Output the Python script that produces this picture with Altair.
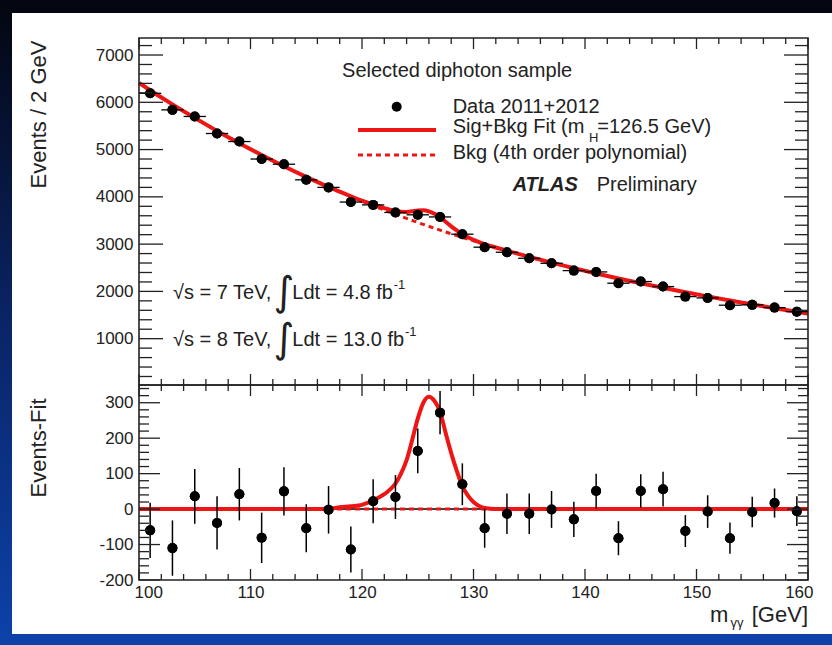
import altair as alt
import pandas as pd

# ---------------- data ----------------
mass = [101, 103, 105, 107, 109, 111, 113, 115, 117, 119, 121, 123, 125, 127, 129,
        131, 133, 135, 137, 139, 141, 143, 145, 147, 149, 151, 153, 155, 157, 159]
events = [6190, 5840, 5700, 5340, 5170, 4800, 4690, 4360, 4200, 3890, 3830, 3670, 3620, 3575, 3210,
          2935, 2828, 2701, 2595, 2440, 2412, 2173, 2208, 2102, 1890, 1862, 1708, 1715, 1657, 1572]
errors = [78, 78, 77, 75, 74, 71, 68, 68, 67, 65, 62, 62, 63, 61, 59,
          55, 57, 57, 52, 50, 49, 48, 47, 49, 45, 46, 44, 43, 41, 42]
residual = [-60, -110, 36, -39, 42, -81, 50, -54, -2, -114, 22, 34, 164, 272, 70,
            -54, -13, -13, -1, -29, 51, -82, 51, 56, -62, -7, -82, -8, 17, -6]

bkg_mass = [100, 101, 103, 105, 107, 109, 111, 113, 115, 117, 119, 121, 123, 125, 127, 129,
            131, 133, 135, 137, 139, 141, 143, 145, 147, 149, 151, 153, 155, 157, 159, 160]
bkg_events = [6410, 6255, 5955, 5670, 5395, 5135, 4885, 4648, 4422, 4208, 4005, 3812, 3630, 3458, 3296, 3143,
              2998, 2861, 2731, 2608, 2491, 2380, 2274, 2173, 2076, 1983, 1894, 1808, 1725, 1645, 1568, 1530]

fit_mass = [100, 101, 103, 105, 107, 109, 111, 113, 115, 117, 118, 119, 120, 121, 122,
            122.5, 123, 123.5, 124, 124.5, 125, 125.5, 126, 126.5, 127, 127.5, 128, 128.5, 129,
            129.5, 130, 130.5, 131, 132, 133, 135, 137, 139, 141, 143, 145, 147, 149, 151, 153,
            155, 157, 159, 160]
fit_events = [6410, 6255, 5955, 5670, 5395, 5135, 4885, 4648, 4422, 4209, 4111, 4013, 3919, 3837, 3762,
              3730, 3702, 3687, 3681, 3695, 3713, 3717, 3694, 3641, 3571, 3472, 3377, 3289, 3208,
              3144, 3090, 3043, 3001, 2929, 2861, 2731, 2608, 2491, 2380, 2274, 2173, 2076, 1983, 1894, 1808,
              1725, 1645, 1568, 1530]

sig_mass = [100, 116, 117, 118, 119, 120, 121, 121.5, 122, 122.5, 123, 123.5, 124, 124.5, 125,
            125.5, 126, 126.5, 127, 127.5, 128, 128.5, 129, 129.5, 130, 130.5, 131, 132, 160]
sig_events = [0, 0, 1, 5, 8, 12, 25, 33, 42, 55, 72, 100, 138, 195, 255,
              300, 317, 305, 275, 215, 158, 108, 65, 38, 20, 9, 3, 0, 0]

x_major = [100, 110, 120, 130, 140, 150, 160]
x_minor = [v for v in range(102, 160, 2) if v % 10]
top_major = [1000, 2000, 3000, 4000, 5000, 6000, 7000]
top_minor = [v for v in range(200, 7400, 200) if v % 1000]
bot_major = [-200, -100, 0, 100, 200, 300]
bot_minor = [v for v in range(-180, 350, 20) if v % 100]

# ---------------- style ----------------
RED = "#ee1515"
INK = "#222222"
FONT = "Liberation Sans"
W, HT, HB = 669, 347, 195
PX0, PY0 = 139, 38
PT = 100

xs = alt.Scale(domain=[100, 160], nice=False, zero=False)
ys_top = alt.Scale(domain=[20, 7360], nice=False, zero=False)
ys_bot = alt.Scale(domain=[-200, 350], nice=False, zero=False)

pts = pd.DataFrame({"m": mass, "n": events, "err": errors, "res": residual})
bkg = pd.DataFrame({"m": bkg_mass, "n": bkg_events})
fit = pd.DataFrame({"m": fit_mass, "n": fit_events})
sig = pd.DataFrame({"m": sig_mass, "n": sig_events})
one = pd.DataFrame({"k": [0]})

y_top_axis = alt.Axis(values=top_major, ticks=False, domain=False, grid=False, labelExpr="'' + datum.value",
                      labelFontSize=17, labelFont=FONT, labelColor=INK, labelPadding=6,
                      title="Events / 2 GeV", titleFont=FONT, titleFontSize=22, titleFontWeight="normal",
                      titleColor=INK, titleAngle=270, titleAlign="right", titleBaseline="middle",
                      titleX=-101, titleY=2, zindex=1)
y_bot_axis = alt.Axis(values=bot_major, ticks=False, domain=False, grid=False, labelExpr="'' + datum.value",
                      labelFontSize=17, labelFont=FONT, labelColor=INK, labelPadding=6,
                      title="Events-Fit", titleFont=FONT, titleFontSize=22, titleFontWeight="normal",
                      titleColor=INK, titleAngle=270, titleAlign="right", titleBaseline="middle",
                      titleX=-101, titleY=13, zindex=1)
x_bot_axis = alt.Axis(values=x_major, ticks=False, domain=False, grid=False, labelExpr="'' + datum.value",
                      labelFontSize=17, labelFont=FONT, labelColor=INK, labelPadding=4,
                      labelFlush=True, labelFlushOffset=5, title=None, zindex=1)

# panel descriptors: (y scale, x axis, y axis)
TOP = (ys_top, None, y_top_axis)
BOT = (ys_bot, x_bot_axis, y_bot_axis)


def X(field, P):
    return alt.X(field, scale=xs, axis=P[1])


def Y(field, P):
    return alt.Y(field, scale=P[0], axis=P[2])


def XD(v, P):
    return alt.XDatum(v, scale=xs, axis=P[1])


def YD(v, P):
    return alt.YDatum(v, scale=P[0], axis=P[2])


def xticks(vals, H, L, P):
    base = alt.Chart(pd.DataFrame({"t": vals})).mark_rule(color=INK, strokeWidth=1.3)
    return [
        base.encode(x=X("t:Q", P), y=alt.value(H), y2=alt.value(H - L)),
        base.encode(x=X("t:Q", P), y=alt.value(0), y2=alt.value(L)),
    ]


def yticks(vals, L, P):
    base = alt.Chart(pd.DataFrame({"t": vals})).mark_rule(color=INK, strokeWidth=1.3)
    return [
        base.encode(y=Y("t:Q", P), x=alt.value(0), x2=alt.value(L)),
        base.encode(y=Y("t:Q", P), x=alt.value(W - L), x2=alt.value(W)),
    ]


def frame(H):
    return alt.Chart(one).mark_rect(filled=False, stroke=INK, strokeWidth=1.6).encode(
        x=alt.value(0), x2=alt.value(W), y=alt.value(0), y2=alt.value(H))


def txt(x, y, s, P, size=20, **kw):
    return alt.Chart(one).mark_text(text=s, align=kw.pop("align", "left"), baseline="middle",
                                    fontSize=size, font=kw.pop("font", FONT), color=INK, **kw).encode(
        x=XD(x, P), y=YD(y, P))


grad = alt.LinearGradient(
    gradient="linear",
    stops=[alt.GradientStop(color="#03060f", offset=0),
           alt.GradientStop(color="#0a2466", offset=0.5),
           alt.GradientStop(color="#0c42aa", offset=1)],
    x1=0, x2=0, y1=0, y2=1)

# ---------------- top panel ----------------
top_layers = [
    alt.Chart(one).mark_rect(color=grad).encode(
        x=alt.value(-PX0), x2=alt.value(832 - PX0), y=alt.value(-PY0), y2=alt.value(645 - PY0)),
    alt.Chart(one).mark_rect(color="white").encode(
        x=alt.value(12 - PX0), x2=alt.value(832 - PX0), y=alt.value(13 - PY0), y2=alt.value(634 - PY0)),
    alt.Chart(pts).mark_circle(size=PT, color="black", opacity=1).encode(
        x=X("m:Q", TOP), y=Y("n:Q", TOP)),
    alt.Chart(bkg).mark_line(color=RED, strokeWidth=3, strokeDash=[5, 4], interpolate="monotone").encode(
        x=X("m:Q", TOP), y=Y("n:Q", TOP)),
    alt.Chart(fit).mark_line(color=RED, strokeWidth=4, interpolate="monotone").encode(
        x=X("m:Q", TOP), y=Y("n:Q", TOP)),
    alt.Chart(pts).transform_calculate(lo="datum.m - 1", hi="datum.m + 1").mark_rule(
        color="black", strokeWidth=1.3).encode(
        x=X("lo:Q", TOP), x2="hi:Q", y=Y("n:Q", TOP)),
    alt.Chart(pts).transform_calculate(a="datum.n - datum.err", b="datum.n + datum.err").mark_rule(
        color="black", strokeWidth=1.3).encode(
        x=X("m:Q", TOP), y=Y("a:Q", TOP), y2="b:Q"),
    alt.Chart(pts).mark_circle(size=PT, color="black", opacity=1).encode(
        x=X("m:Q", TOP), y=Y("n:Q", TOP)),
]
top_layers += xticks(x_major, HT, 11, TOP) + xticks(x_minor, HT, 6, TOP)
top_layers += yticks(top_major, 24, TOP) + yticks(top_minor, 13, TOP)
top_layers.append(frame(HT))

# legend and annotations
top_layers += [
    txt(118.21, 6662, "Selected diphoton sample", TOP),
    alt.Chart(one).mark_circle(size=PT, color="black", opacity=1).encode(
        x=XD(123.11, TOP), y=YD(5907, TOP)),
    txt(128.13, 5911, "Data 2011+2012", TOP),
    alt.Chart(one).mark_rule(color=RED, strokeWidth=4).encode(
        x=XD(119.64, TOP), x2=alt.X2Datum(126.64), y=YD(5414, TOP)),
    txt(128.13, 5484, "Sig+Bkg Fit (m", TOP),
    txt(140.35, 5250, "H", TOP, size=13),
    txt(141.1, 5484, "=126.5 GeV)", TOP),
    alt.Chart(one).mark_rule(color=RED, strokeWidth=3, strokeDash=[5, 4]).encode(
        x=XD(119.64, TOP), x2=alt.X2Datum(126.64), y=YD(4885, TOP)),
    txt(128.13, 4934, "Bkg (4th order polynomial)", TOP),
    txt(133.51, 4250, "ATLAS", TOP, fontStyle="italic", fontWeight="bold"),
    txt(141.05, 4250, "Preliminary", TOP),
    txt(103.05, 1965, "√s = 7 TeV,", TOP),
    txt(113.0, 1965, "∫", TOP, size=40, align="center", font="DejaVu Sans"),
    txt(113.75, 1965, "Ldt = 4.8 fb", TOP),
    txt(122.85, 2135, "-1", TOP, size=13),
    txt(103.05, 971, "√s = 8 TeV,", TOP),
    txt(113.0, 971, "∫", TOP, size=40, align="center", font="DejaVu Sans"),
    txt(113.75, 971, "Ldt = 13.0 fb", TOP),
    txt(123.85, 1140, "-1", TOP, size=13),
]
top = alt.layer(*top_layers).properties(width=W, height=HT)

# ---------------- bottom panel ----------------
bot_layers = [
    alt.Chart(pts).mark_circle(size=PT, color="black", opacity=1).encode(
        x=X("m:Q", BOT), y=Y("res:Q", BOT)),
    alt.Chart(one).mark_rule(color="black", strokeWidth=1.5).encode(
        y=YD(0, BOT), x=alt.value(0), x2=alt.value(W)),
    alt.Chart(one).mark_rule(color=RED, strokeWidth=3, strokeDash=[5, 4]).encode(
        y=YD(0, BOT), x=alt.value(0), x2=alt.value(W)),
    alt.Chart(sig).mark_line(color=RED, strokeWidth=4, interpolate="monotone").encode(
        x=X("m:Q", BOT), y=Y("n:Q", BOT)),
    alt.Chart(pts).transform_calculate(a="datum.res - datum.err", b="datum.res + datum.err").mark_rule(
        color="black", strokeWidth=1.5).encode(
        x=X("m:Q", BOT), y=Y("a:Q", BOT), y2="b:Q"),
    alt.Chart(pts).mark_circle(size=PT, color="black", opacity=1).encode(
        x=X("m:Q", BOT), y=Y("res:Q", BOT)),
]
bot_layers += xticks(x_major, HB, 11, BOT) + xticks(x_minor, HB, 6, BOT)
bot_layers += yticks(bot_major, 21, BOT) + yticks(bot_minor, 10, BOT)
bot_layers.append(frame(HB))

bot_layers += [
    txt(151.21, -300, "m", BOT, size=22),
    txt(153.05, -322, "γγ", BOT, size=13),
    txt(160.0, -300, "[GeV]", BOT, size=22, align="right"),
]
bottom = alt.layer(*bot_layers).properties(width=W, height=HB)

chart = alt.vconcat(top, bottom, spacing=0, bounds="flush").resolve_scale(
    y="independent").properties(padding=0, background="#0a2466").configure_view(stroke=None)

chart.save("out.html", embed_options={"renderer": "svg", "actions": False})
